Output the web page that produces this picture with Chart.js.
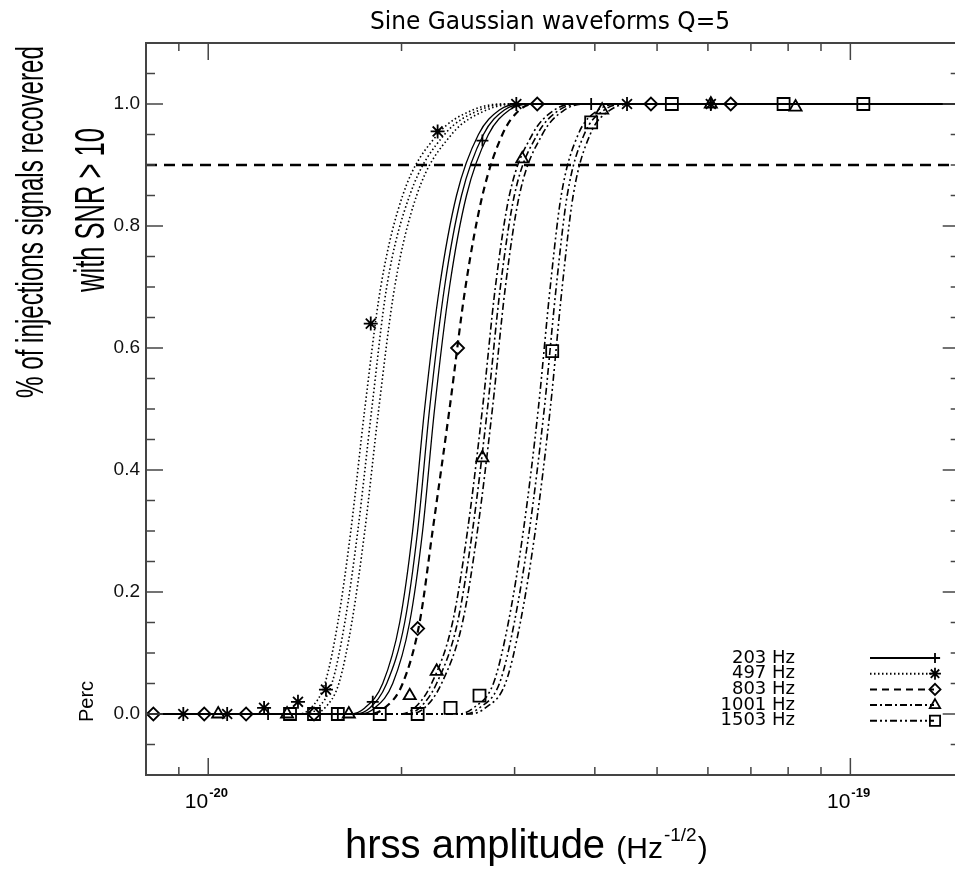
<!DOCTYPE html>
<html><head><meta charset="utf-8">
<script src="https://cdn.jsdelivr.net/npm/chart.js@4.4.0/dist/chart.umd.min.js"></script>
<style>html,body{margin:0;padding:0;background:#fff;overflow:hidden;width:955px;height:869px}canvas{display:block}</style>
</head><body>
<canvas id="c" width="970" height="869"></canvas>
<script>
// ---------- data ----------
const chartTitle = 'Sine Gaussian waveforms Q=5';
const yTitleLines = ['% of injections signals recovered', 'with SNR > 10'];
const xTitleMain = 'hrss amplitude ';
const xTitleUnit = '(Hz';
const xTitleExp = '-1/2';
const seriesNames = ['203 Hz', '497 Hz', '803 Hz', '1001 Hz', '1503 Hz'];

const xMin = 8.0e-21, xMax = 1.48e-19;
const yMin = -0.1, yMax = 1.1;
const threshold = 0.9;

const xMajorTicks = [1e-20, 1e-19];
const xTickBase = ['10', '10'];
const xTickExp = ['-20', '-19'];
const xMinorTicks = [9e-21, 2e-20, 3e-20, 4e-20, 5e-20, 6e-20, 7e-20, 8e-20, 9e-20];
const yMajorTicks = [0, 0.2, 0.4, 0.6, 0.8, 1.0];
const yMinorTicks = [-0.05, 0.05, 0.1, 0.15, 0.25, 0.3, 0.35, 0.45, 0.5, 0.55, 0.65, 0.7, 0.75, 0.85, 0.9, 0.95, 1.05];

// fitted efficiency curves: amplitude where each curve reaches these levels
const fitLevels = [0, 0, 0.01, 0.05, 0.15, 0.3, 0.5, 0.7, 0.85, 0.95, 0.99, 1, 1];
const fit203Lo  = [xMin, 1.6615e-20, 1.7530e-20, 1.8695e-20, 1.9868e-20, 2.0812e-20, 2.1725e-20, 2.2922e-20, 2.4359e-20, 2.6352e-20, 2.8406e-20, 3.0512e-20, xMax];
const fit203Mid = [xMin, 1.6913e-20, 1.7846e-20, 1.8964e-20, 2.0226e-20, 2.1188e-20, 2.2116e-20, 2.3335e-20, 2.4799e-20, 2.6827e-20, 2.8919e-20, 3.1063e-20, xMax];
const fit203Hi  = [xMin, 1.7220e-20, 1.8169e-20, 1.9377e-20, 2.0590e-20, 2.1570e-20, 2.2515e-20, 2.3755e-20, 2.5246e-20, 2.7312e-20, 2.9439e-20, 3.1623e-20, xMax];
const fit497Lo  = [xMin, 1.3796e-20, 1.4453e-20, 1.5194e-20, 1.5917e-20, 1.6674e-20, 1.7530e-20, 1.8562e-20, 2.0082e-20, 2.2758e-20, 2.5792e-20, 2.8712e-20, xMax];
const fit497Mid = [xMin, 1.4145e-20, 1.4819e-20, 1.5580e-20, 1.6320e-20, 1.7097e-20, 1.7975e-20, 1.8964e-20, 2.0590e-20, 2.3335e-20, 2.6446e-20, 2.9439e-20, xMax];
const fit497Hi  = [xMin, 1.4504e-20, 1.5194e-20, 1.5974e-20, 1.6734e-20, 1.7530e-20, 1.8430e-20, 1.9515e-20, 2.1112e-20, 2.3926e-20, 2.7115e-20, 3.0185e-20, xMax];
const fit803Mid = [xMin, 1.7846e-20, 1.8828e-20, 2.0082e-20, 2.1339e-20, 2.2355e-20, 2.3755e-20, 2.5155e-20, 2.6730e-20, 2.8713e-20, 3.0512e-20, 3.2193e-20, xMax];
const fit1001Lo  = [xMin, 1.9868e-20, 2.0962e-20, 2.2275e-20, 2.4013e-20, 2.5335e-20, 2.6730e-20, 2.8002e-20, 2.9439e-20, 3.1964e-20, 3.4580e-20, 3.7143e-20, xMax];
const fit1001Mid = [xMin, 2.0226e-20, 2.1339e-20, 2.2677e-20, 2.4446e-20, 2.5792e-20, 2.7214e-20, 2.8508e-20, 2.9970e-20, 3.2540e-20, 3.5203e-20, 3.7813e-20, xMax];
const fit1001Hi  = [xMin, 2.0590e-20, 2.1725e-20, 2.3087e-20, 2.4886e-20, 2.6257e-20, 2.7703e-20, 2.9023e-20, 3.0512e-20, 3.3127e-20, 3.5839e-20, 3.8494e-20, xMax];
const fit1503Lo  = [xMin, 2.4533e-20, 2.5884e-20, 2.7802e-20, 2.9334e-20, 3.0952e-20, 3.2657e-20, 3.4089e-20, 3.5456e-20, 3.7678e-20, 4.0471e-20, 4.4255e-20, xMax];
const fit1503Mid = [xMin, 2.5065e-20, 2.6446e-20, 2.8406e-20, 2.9970e-20, 3.1623e-20, 3.3365e-20, 3.4828e-20, 3.6225e-20, 3.8494e-20, 4.1348e-20, 4.5215e-20, xMax];
const fit1503Hi  = [xMin, 2.5608e-20, 2.7018e-20, 2.9023e-20, 3.0621e-20, 3.2308e-20, 3.4089e-20, 3.5584e-20, 3.7010e-20, 3.9330e-20, 4.2244e-20, 4.6198e-20, xMax];

// measured points
const amp203 = [1.2393e-20, 1.5916e-20, 1.8039e-20, 2.6730e-20, 3.9478e-20, 6.0630e-20];
const eff203 = [0, 0, 0.02, 0.94, 1, 1];
const amp497 = [0.9145e-20, 1.0703e-20, 1.2217e-20, 1.3796e-20, 1.5252e-20, 1.7910e-20, 2.2763e-20, 3.0185e-20, 4.4893e-20, 6.0630e-20];
const eff497 = [0, 0, 0.01, 0.02, 0.04, 0.64, 0.955, 1, 1, 1];
const amp803 = [0.8214e-20, 0.9858e-20, 1.1455e-20, 1.4612e-20, 2.1191e-20, 2.4451e-20, 3.2537e-20, 4.8913e-20, 6.5121e-20];
const eff803 = [0, 0, 0, 0, 0.14, 0.6, 1, 1, 1];
const amp1001 = [1.0364e-20, 1.3266e-20, 1.6555e-20, 2.0596e-20, 2.2684e-20, 2.6730e-20, 3.0839e-20, 4.1063e-20, 6.0630e-20, 8.2157e-20];
const eff1001 = [0, 0, 0, 0.03, 0.07, 0.42, 0.91, 0.99, 1, 0.995];
const amp1503 = [1.3408e-20, 1.4612e-20, 1.5916e-20, 1.8496e-20, 2.1191e-20, 2.3845e-20, 2.6452e-20, 3.4330e-20, 3.9478e-20, 5.2722e-20, 7.8705e-20, 10.476e-20];
const eff1503 = [0, 0, 0, 0, 0, 0.01, 0.03, 0.595, 0.97, 1, 1, 1];

// ---------- styles ----------
const dashes = [[], [1.5, 2.5], [7, 5], [7, 3, 2, 3], [7, 3, 2, 3, 2, 3]];
const widths = [1.3, 1.6, 2.2, 1.6, 1.6];
const markers = ['cross', 'star', 'rectRot', 'triangle', 'rect'];
const markerRadius = [6, 7, 6.5, 7, 8.5];

const fitGroups = [
  [fit203Lo, fit203Mid, fit203Hi],
  [fit497Lo, fit497Mid, fit497Hi],
  [fit803Mid],
  [fit1001Lo, fit1001Mid, fit1001Hi],
  [fit1503Lo, fit1503Mid, fit1503Hi]
];
const pointGroups = [[amp203, eff203], [amp497, eff497], [amp803, eff803], [amp1001, eff1001], [amp1503, eff1503]];

const datasets = [];
pointGroups.forEach(([xs, ys], i) => {
  datasets.push({
    label: seriesNames[i] + ' points',
    data: xs.map((x, k) => ({ x, y: ys[k] })),
    showLine: false, pointStyle: markers[i], pointRadius: markerRadius[i],
    pointBorderColor: '#000', pointBackgroundColor: 'rgba(0,0,0,0)', pointBorderWidth: 1.8,
    pointHoverRadius: markerRadius[i], order: 0
  });
});
fitGroups.forEach((group, i) => {
  group.forEach(xs => {
    datasets.push({
      label: seriesNames[i] + ' fit',
      data: xs.map((x, k) => ({ x, y: fitLevels[k] })),
      showLine: true, pointRadius: 0, borderColor: '#000', borderWidth: widths[i],
      borderDash: dashes[i], cubicInterpolationMode: 'monotone', fill: false, order: 1
    });
  });
});
datasets.push({
  label: 'threshold',
  data: [{ x: xMin, y: threshold }, { x: xMax, y: threshold }],
  showLine: true, pointRadius: 0, borderColor: '#000', borderWidth: 2.6, borderDash: [11, 7], order: 2
});

const FONT = '"Liberation Sans", Arial, sans-serif';
const HFONT = '"DejaVu Sans", sans-serif';

function fitText(ctx, text, x, y, target) {
  const w = ctx.measureText(text).width;
  ctx.save(); ctx.translate(x, y); ctx.scale(target / w, 1);
  ctx.fillText(text, 0, 0); ctx.restore();
}

const decor = {
  id: 'decor',
  afterDraw(chart) {
    const ctx = chart.ctx, a = chart.chartArea, xs = chart.scales.x, ys = chart.scales.y;
    ctx.save();
    ctx.strokeStyle = '#444'; ctx.lineWidth = 2;
    ctx.strokeRect(a.left, a.top, a.right - a.left, a.bottom - a.top);
    ctx.lineWidth = 1.5;
    const tick = (x1, y1, x2, y2) => { ctx.beginPath(); ctx.moveTo(x1, y1); ctx.lineTo(x2, y2); ctx.stroke(); };
    xMajorTicks.forEach(v => { const p = xs.getPixelForValue(v); tick(p, a.bottom, p, a.bottom - 17); tick(p, a.top, p, a.top + 17); });
    xMinorTicks.forEach(v => { const p = xs.getPixelForValue(v); tick(p, a.bottom, p, a.bottom - 8); tick(p, a.top, p, a.top + 8); });
    yMajorTicks.forEach(v => { const p = ys.getPixelForValue(v); tick(a.left, p, a.left + 17, p); tick(a.right, p, a.right - 17, p); });
    yMinorTicks.forEach(v => { const p = ys.getPixelForValue(v); tick(a.left, p, a.left + 9, p); tick(a.right, p, a.right - 9, p); });

    ctx.fillStyle = '#000';
    // x tick labels with superscripts
    xMajorTicks.forEach((v, i) => {
      const p = xs.getPixelForValue(v);
      ctx.font = '21px ' + FONT; ctx.textAlign = 'right'; ctx.textBaseline = 'alphabetic';
      ctx.fillText(xTickBase[i], p, 808);
      ctx.font = 'bold 13px ' + FONT; ctx.textAlign = 'left';
      ctx.fillText(xTickExp[i], p + 1, 797);
    });

    // title
    ctx.font = '24px ' + HFONT; ctx.textAlign = 'center'; ctx.textBaseline = 'alphabetic';
    fitText(ctx, chartTitle, 550, 29, 360);

    // legend
    ctx.font = '18px ' + HFONT; ctx.textBaseline = 'middle';
    seriesNames.forEach((n, i) => {
      const yy = 658 + i * 15.7;
      ctx.textAlign = 'right'; ctx.fillText(n, 795, yy);
      ctx.save(); ctx.setLineDash(dashes[i]); ctx.lineWidth = 2; ctx.strokeStyle = '#000';
      ctx.beginPath(); ctx.moveTo(870, yy); ctx.lineTo(934, yy); ctx.stroke(); ctx.restore();
      ctx.save(); ctx.lineWidth = 1.8; ctx.strokeStyle = '#000'; ctx.fillStyle = 'rgba(0,0,0,0)';
      Chart.helpers.drawPoint(ctx, { pointStyle: markers[i], radius: markerRadius[i] * 0.85, borderWidth: 1.8, rotation: 0 }, 935, yy);
      ctx.restore();
    });

    // y title (two lines, rotated, condensed)
    ctx.fillStyle = '#000'; ctx.textAlign = 'center'; ctx.textBaseline = 'alphabetic';
    ctx.font = '39px ' + FONT;
    ctx.save(); ctx.translate(43, 222); ctx.rotate(-Math.PI / 2);
    fitText(ctx, yTitleLines[0], 0, 0, 352); ctx.restore();
    ctx.font = '42px ' + FONT;
    ctx.save(); ctx.translate(104, 210); ctx.rotate(-Math.PI / 2);
    fitText(ctx, yTitleLines[1], 0, 0, 164); ctx.restore();

    // remnant small label
    ctx.save(); ctx.beginPath(); ctx.rect(60, 681, 50, 60); ctx.clip();
    ctx.translate(93, 722); ctx.rotate(-Math.PI / 2);
    ctx.font = '20px ' + FONT; ctx.textAlign = 'left'; ctx.textBaseline = 'alphabetic';
    ctx.fillText('Percent', 0, 0); ctx.restore();

    // x title
    ctx.textAlign = 'left'; ctx.textBaseline = 'alphabetic';
    let cx = 345;
    ctx.font = '40px ' + FONT; ctx.fillText(xTitleMain, cx, 858); cx += ctx.measureText(xTitleMain).width;
    ctx.font = '30px ' + FONT; ctx.fillText(xTitleUnit, cx, 858); cx += ctx.measureText(xTitleUnit).width;
    ctx.font = '19px ' + FONT; ctx.fillText(xTitleExp, cx + 1, 841); cx += ctx.measureText(xTitleExp).width + 2;
    ctx.font = '30px ' + FONT; ctx.fillText(')', cx, 858);
    ctx.restore();
  }
};

new Chart(document.getElementById('c'), {
  type: 'scatter',
  data: { datasets },
  options: {
    responsive: false, animation: false, devicePixelRatio: 1,
    layout: { padding: { top: 43, right: 8, left: 0, bottom: 0 } },
    plugins: { legend: { display: false }, tooltip: { enabled: false }, title: { display: false } },
    scales: {
      x: {
        type: 'logarithmic', min: xMin, max: xMax,
        grid: { display: false, drawTicks: false }, border: { display: false },
        ticks: { display: false },
        afterFit: s => { s.height = 94; }
      },
      y: {
        type: 'linear', min: yMin, max: yMax,
        grid: { display: false, drawTicks: false }, border: { display: false },
        afterBuildTicks: s => { s.ticks = yMajorTicks.map(v => ({ value: v })); },
        ticks: { color: '#111', font: { family: 'Liberation Sans', size: 19 }, padding: 6,
                 callback: v => Number(v).toFixed(1) },
        afterFit: s => { s.width = 146; }
      }
    }
  },
  plugins: [decor]
});
</script></body></html>
